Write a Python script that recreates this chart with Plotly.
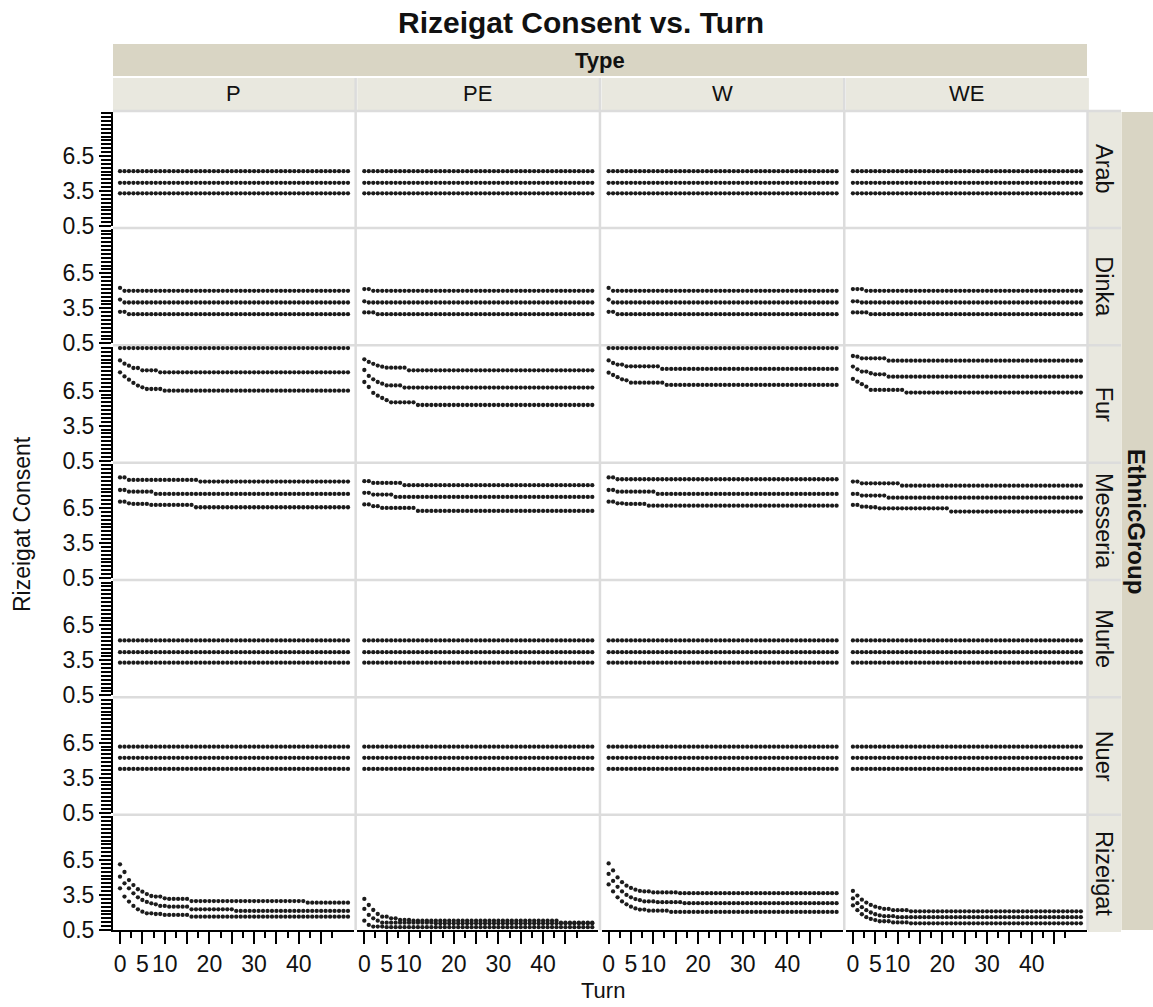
import plotly.graph_objects as go

W, H = 1153, 1007
FONT = "Liberation Sans, Arial, sans-serif"

TURNS = list(range(52))
TYPES = ["P", "PE", "W", "WE"]
GROUPS = ["Arab", "Dinka", "Fur", "Messeria", "Murle", "Nuer", "Rizeigat"]
X_TICK_VALS = [0, 5, 10, 15, 20, 25, 30, 35, 40, 45]
X_TICK_TEXT = ["0", "5", "10", "", "20", "", "30", "", "40", ""]
X_MINOR_VALS = [2.5, 7.5, 12.5, 17.5, 22.5, 27.5, 32.5, 37.5, 42.5, 47.5]
Y_TICK_VALS = [0.5, 3.5, 6.5]
Y_TICK_TEXT = ["0.5", "3.5", "6.5"]

# Each series is a list of (first turn, value) steps;
# the value holds until the next listed turn.
ARAB_P = [[(0, 5.2)], [(0, 4.2)], [(0, 3.3)]]
ARAB_PE = [[(0, 5.2)], [(0, 4.2)], [(0, 3.3)]]
ARAB_W = [[(0, 5.2)], [(0, 4.2)], [(0, 3.3)]]
ARAB_WE = [[(0, 5.2)], [(0, 4.2)], [(0, 3.3)]]

DINKA_P = [[(0, 5.25), (1, 5.0)], [(0, 4.25), (1, 4.0)], [(0, 3.2), (2, 3.0)]]
DINKA_PE = [[(0, 5.15), (2, 5.0)], [(0, 4.1), (1, 4.0)], [(0, 3.15), (3, 3.0)]]
DINKA_W = [[(0, 5.25), (1, 5.0)], [(0, 4.25), (1, 4.0)], [(0, 3.2), (2, 3.0)]]
DINKA_WE = [[(0, 5.15), (3, 5.0)], [(0, 4.1), (2, 4.0)], [(0, 3.15), (4, 3.0)]]

FUR_P = [
    [(0, 10.15)],
    [(0, 9.09), (1, 8.81), (2, 8.64), (3, 8.44), (5, 8.24), (9, 8.07)],
    [(0, 8.07), (1, 7.72), (2, 7.44), (3, 7.16), (4, 6.93), (5, 6.78), (6, 6.64), (10, 6.5)],
]
FUR_PE = [
    [(0, 9.18), (1, 8.96), (2, 8.8), (3, 8.65), (4, 8.55), (5, 8.47), (10, 8.24)],
    [(0, 8.27), (1, 7.76), (2, 7.47), (3, 7.24), (4, 7.1), (5, 6.95), (9, 6.76)],
    [(0, 7.24), (1, 6.81), (2, 6.3), (3, 6.07), (4, 5.87), (5, 5.68), (6, 5.5), (12, 5.27)],
]
FUR_W = [
    [(0, 10.15)],
    [(0, 9.09), (1, 8.87), (2, 8.73), (4, 8.58), (12, 8.36)],
    [(0, 8.04), (1, 7.84), (2, 7.65), (3, 7.47), (4, 7.38), (5, 7.18), (13, 6.99)],
]
FUR_WE = [
    [(0, 9.47), (1, 9.41), (2, 9.27), (8, 9.07)],
    [(0, 8.56), (1, 8.33), (2, 8.13), (4, 7.99), (5, 7.9), (8, 7.7)],
    [(0, 7.5), (1, 7.27), (2, 7.05), (3, 6.84), (4, 6.56), (12, 6.33)],
]

MESSERIA_P = [
    [(0, 9.12), (2, 8.9), (18, 8.76)],
    [(0, 8.04), (2, 7.9), (8, 7.7)],
    [(0, 7.04), (2, 6.9), (3, 6.85), (7, 6.76), (17, 6.56)],
]
MESSERIA_PE = [
    [(0, 8.8), (2, 8.65), (9, 8.45)],
    [(0, 7.8), (2, 7.65), (7, 7.45)],
    [(0, 6.8), (2, 6.65), (4, 6.5), (12, 6.25)],
]
MESSERIA_W = [
    [(0, 9.12), (2, 8.96)],
    [(0, 8.04), (2, 7.9), (11, 7.7)],
    [(0, 7.04), (2, 6.9), (4, 6.85), (9, 6.7)],
]
MESSERIA_WE = [
    [(0, 8.76), (2, 8.61), (11, 8.41)],
    [(0, 7.7), (2, 7.56), (8, 7.38)],
    [(0, 6.76), (2, 6.61), (4, 6.56), (6, 6.47), (22, 6.19)],
]

MURLE_P = [[(0, 5.2)], [(0, 4.2)], [(0, 3.3)]]
MURLE_PE = [[(0, 5.2)], [(0, 4.2)], [(0, 3.3)]]
MURLE_W = [[(0, 5.2)], [(0, 4.2)], [(0, 3.3)]]
MURLE_WE = [[(0, 5.2)], [(0, 4.2)], [(0, 3.3)]]

NUER_P = [[(0, 6.15)], [(0, 5.2)], [(0, 4.25)]]
NUER_PE = [[(0, 6.15)], [(0, 5.2)], [(0, 4.25)]]
NUER_W = [[(0, 6.15)], [(0, 5.2)], [(0, 4.25)]]
NUER_WE = [[(0, 6.15)], [(0, 5.2)], [(0, 4.25)]]

RIZEIGAT_P = [
    [(0, 6.13), (1, 5.47), (2, 4.78), (3, 4.35), (4, 3.99), (5, 3.78), (6, 3.58), (7, 3.41),
     (8, 3.36), (10, 3.21), (11, 3.16), (16, 2.98), (42, 2.84)],
    [(0, 5.07), (1, 4.5), (2, 4.07), (3, 3.64), (4, 3.3), (5, 3.07), (6, 2.9), (7, 2.78),
     (8, 2.7), (9, 2.56), (11, 2.5), (16, 2.27), (26, 2.13)],
    [(0, 4.07), (1, 3.36), (2, 2.93), (3, 2.56), (4, 2.27), (5, 2.07), (6, 1.93), (8, 1.87),
     (10, 1.79), (16, 1.64)],
]
RIZEIGAT_PE = [
    [(0, 3.16), (1, 2.64), (2, 2.21), (3, 1.87), (4, 1.64), (6, 1.5), (8, 1.36), (11, 1.3), (44, 1.13)],
    [(0, 2.3), (1, 1.79), (2, 1.5), (3, 1.3), (4, 1.13), (16, 1.07)],
    [(0, 1.3), (1, 0.93), (2, 0.79), (5, 0.74)],
]
RIZEIGAT_W = [
    [(0, 6.2), (1, 5.6), (2, 5.0), (3, 4.6), (4, 4.3), (5, 4.1), (6, 3.95), (7, 3.85),
     (8, 3.8), (10, 3.72), (16, 3.65)],
    [(0, 5.3), (1, 4.7), (2, 4.2), (3, 3.8), (4, 3.5), (5, 3.3), (6, 3.15), (7, 3.05),
     (8, 2.95), (11, 2.88), (17, 2.8)],
    [(0, 4.4), (1, 3.8), (2, 3.3), (3, 2.95), (4, 2.7), (5, 2.5), (6, 2.35), (7, 2.25),
     (9, 2.15), (14, 2.05)],
]
RIZEIGAT_WE = [
    [(0, 3.85), (1, 3.45), (2, 3.1), (3, 2.85), (4, 2.65), (5, 2.5), (6, 2.4), (7, 2.3),
     (9, 2.2), (13, 2.1)],
    [(0, 3.2), (1, 2.8), (2, 2.45), (3, 2.2), (4, 2.0), (5, 1.85), (6, 1.75), (7, 1.68), (10, 1.6)],
    [(0, 2.6), (1, 2.2), (2, 1.85), (3, 1.6), (4, 1.45), (5, 1.35), (6, 1.25), (9, 1.15), (13, 1.07)],
]

PANELS = {
    "Arab": [ARAB_P, ARAB_PE, ARAB_W, ARAB_WE],
    "Dinka": [DINKA_P, DINKA_PE, DINKA_W, DINKA_WE],
    "Fur": [FUR_P, FUR_PE, FUR_W, FUR_WE],
    "Messeria": [MESSERIA_P, MESSERIA_PE, MESSERIA_W, MESSERIA_WE],
    "Murle": [MURLE_P, MURLE_PE, MURLE_W, MURLE_WE],
    "Nuer": [NUER_P, NUER_PE, NUER_W, NUER_WE],
    "Rizeigat": [RIZEIGAT_P, RIZEIGAT_PE, RIZEIGAT_W, RIZEIGAT_WE],
}


def expand(steps):
    out = []
    for t in TURNS:
        v = None
        for start, val in steps:
            if start <= t:
                v = val
        out.append(v)
    return out


def fx(px):
    return px / W


def fy(py):
    return 1 - py / H


# ---- layout geometry (pixels from the top-left of the page) ----
COL_LEFT = [113, 357.3, 601.6, 845.9]
COL_W = 241
ROW_BOTTOM = [226 + 117.33 * i for i in range(7)]
ROW_H = 114
PX_PER_UNIT = 11.67
X_RANGE = [-1.57, 52.35]
Y_RANGE = [0.5, 0.5 + ROW_H / PX_PER_UNIT]

fig = go.Figure()
layout = dict(
    width=W, height=H, autosize=False,
    margin=dict(l=0, r=0, t=0, b=0, pad=0, autoexpand=False),
    paper_bgcolor="white", plot_bgcolor="white",
    showlegend=False, font=dict(family=FONT, color="#111111"),
)

for r, g in enumerate(GROUPS):
    for c, tp in enumerate(TYPES):
        n = r * 4 + c + 1
        xa = "xaxis" if n == 1 else f"xaxis{n}"
        ya = "yaxis" if n == 1 else f"yaxis{n}"
        xr = "x" if n == 1 else f"x{n}"
        yr = "y" if n == 1 else f"y{n}"
        for series in PANELS[g][c]:
            fig.add_trace(go.Scatter(
                x=TURNS, y=expand(series), xaxis=xr, yaxis=yr, mode="markers",
                marker=dict(size=4.3, color="#1c1c1c", symbol="circle"),
                cliponaxis=False, hoverinfo="skip",
            ))
        bottom_row = r == len(GROUPS) - 1
        first_col = c == 0
        xd = dict(
            domain=[fx(COL_LEFT[c]), fx(COL_LEFT[c] + COL_W)], range=X_RANGE,
            anchor=yr, showgrid=False, zeroline=False, fixedrange=True, automargin=False,
            showline=bottom_row, linecolor="black", linewidth=2,
        )
        if bottom_row:
            xd.update(
                tickmode="array", tickvals=X_TICK_VALS, ticktext=X_TICK_TEXT,
                ticks="outside", ticklen=12, tickwidth=2, tickcolor="black",
                tickfont=dict(size=23, color="#111111", family=FONT),
                minor=dict(tickmode="array", tickvals=X_MINOR_VALS, ticks="outside",
                           ticklen=6, tickwidth=2, tickcolor="black", showgrid=False),
            )
        else:
            xd.update(showticklabels=False, ticks="")
        yd = dict(
            domain=[fy(ROW_BOTTOM[r]), fy(ROW_BOTTOM[r] - ROW_H)], range=Y_RANGE,
            anchor=xr, showgrid=False, zeroline=False, fixedrange=True, automargin=False,
            showline=first_col, linecolor="black", linewidth=2,
        )
        if first_col:
            yd.update(
                tickmode="array", tickvals=Y_TICK_VALS, ticktext=Y_TICK_TEXT,
                ticks="outside", ticklen=12, tickwidth=2, tickcolor="black",
                tickfont=dict(size=23, color="#111111", family=FONT),
                minor=dict(tickmode="linear", tick0=0.5, dtick=1 / 3, ticks="outside",
                           ticklen=10, tickwidth=2, tickcolor="black", showgrid=False),
            )
        else:
            yd.update(showticklabels=False, ticks="")
        layout[xa] = xd
        layout[ya] = yd

shapes = []
STRIP_DARK = "#d9d5c4"
STRIP_LIGHT = "#e9e8df"
SEP = "#dcdcdc"


def rect(x0, y0, x1, y1, color):
    shapes.append(dict(type="rect", xref="paper", yref="paper",
                       x0=fx(x0), x1=fx(x1), y0=fy(y1), y1=fy(y0),
                       fillcolor=color, line=dict(width=0), layer="below"))


def line(x0, y0, x1, y1, color=SEP, width=2.5):
    shapes.append(dict(type="line", xref="paper", yref="paper",
                       x0=fx(x0), x1=fx(x1), y0=fy(y0), y1=fy(y1),
                       line=dict(color=color, width=width), layer="below"))


# Type strip and column strips
rect(113, 44, 1087, 76, STRIP_DARK)
for c in range(4):
    rect(COL_LEFT[c], 78, COL_LEFT[c] + COL_W + 2, 110, STRIP_LIGHT)
# Row strips and EthnicGroup strip
for r in range(7):
    rect(1088, ROW_BOTTOM[r] - ROW_H - 1, 1121, ROW_BOTTOM[r] + 2, STRIP_LIGHT)
rect(1121.5, 112, 1153, 930, STRIP_DARK)

# separators
for c in range(1, 4):
    xs = (COL_LEFT[c - 1] + COL_W + COL_LEFT[c]) / 2
    line(xs, 78, xs, 930)
line(1087.5, 110, 1087.5, 930)
for r in range(6):
    ys = ROW_BOTTOM[r] + 2
    line(113, ys, 1121, ys)
line(113, 111, 1121, 111)

annotations = []


def text(x, y, s, size, bold=False, angle=0):
    annotations.append(dict(
        x=fx(x), y=fy(y), xref="paper", yref="paper", text=f"<b>{s}</b>" if bold else s,
        showarrow=False, xanchor="center", yanchor="middle", textangle=angle,
        font=dict(family=FONT, size=size, color="#111111"),
    ))


text(580.5, 22, "Rizeigat Consent vs. Turn", 30, bold=True)
text(600, 60, "Type", 22, bold=True)
for c, tp in enumerate(TYPES):
    text(COL_LEFT[c] + COL_W / 2, 94, tp, 22)
for r, g in enumerate(GROUPS):
    text(1104, ROW_BOTTOM[r] - ROW_H / 2, g, 23.5, angle=90)
text(1137, 521, "EthnicGroup", 24, bold=True, angle=90)
text(22, 524, "Rizeigat Consent", 23, angle=-90)
text(603, 990, "Turn", 22)

layout["shapes"] = shapes
layout["annotations"] = annotations
fig.update_layout(**layout)
fig.write_html("out.html", include_plotlyjs=True, config={"displayModeBar": False})
